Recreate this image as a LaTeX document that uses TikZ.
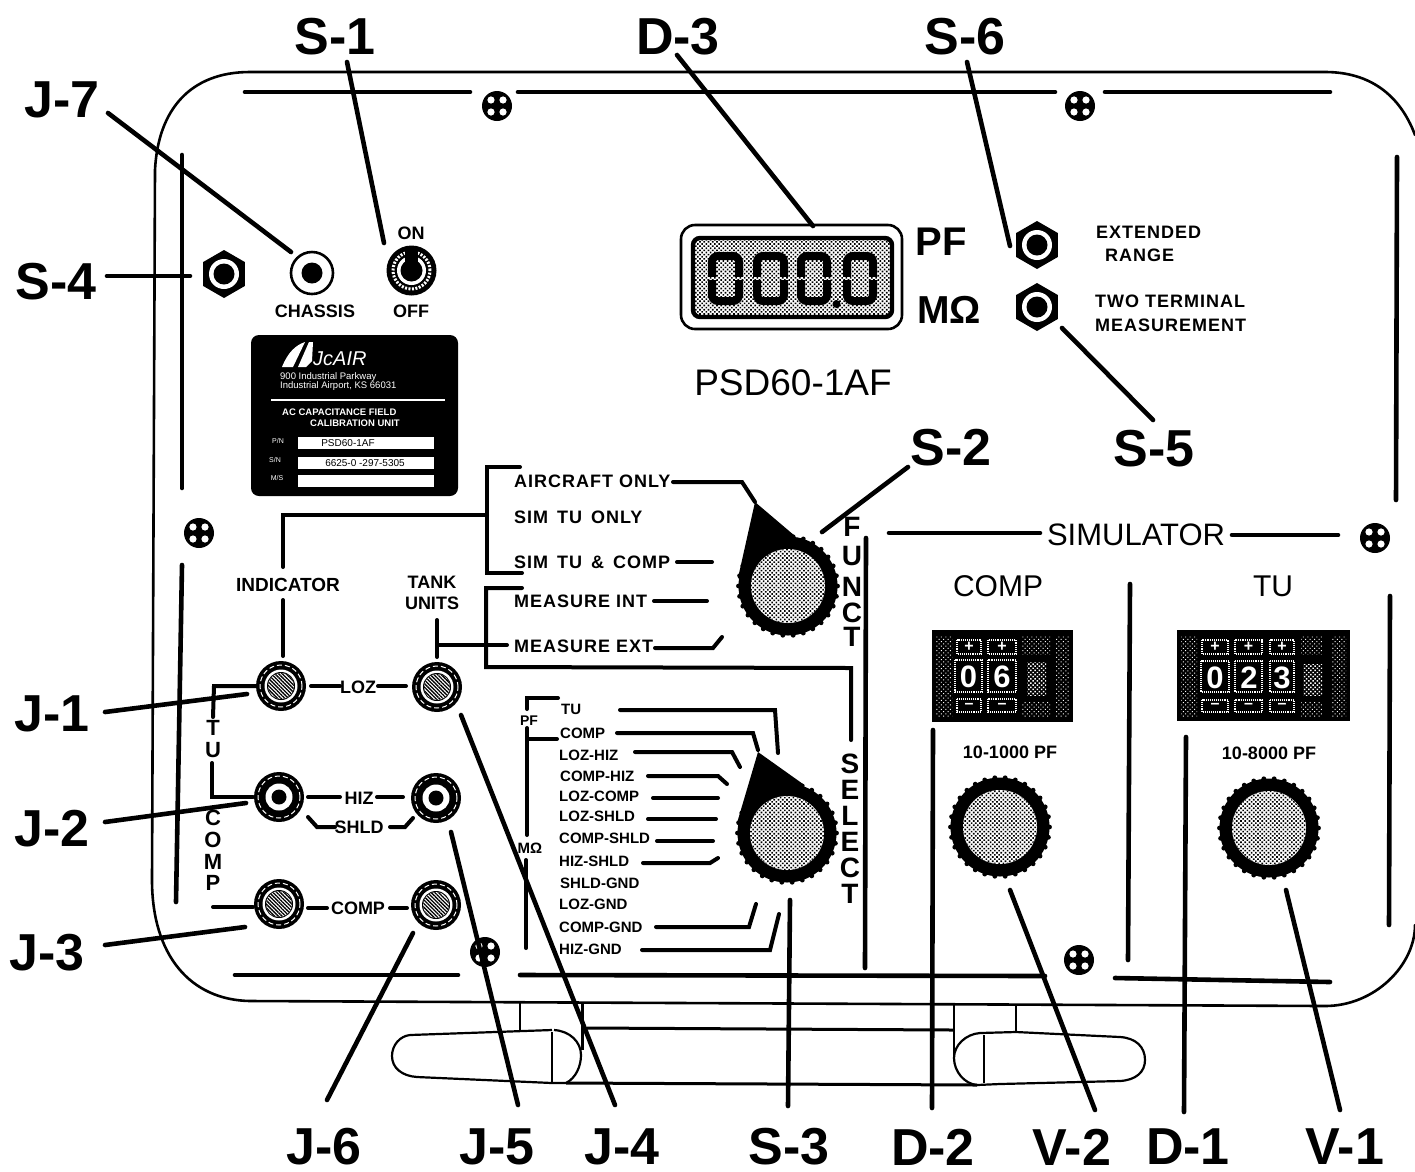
\documentclass[tikz,border=0pt]{standalone}
\usepackage{fontspec}
\setmainfont{Liberation Sans}
\newfontfamily\widefont{Liberation Sans}[LetterSpace=5.5]
\usetikzlibrary{patterns.meta,calc}
\tikzset{
  x=1pt,y=-1pt,
  panelline/.style={line width=2.6pt,line cap=round},
  innerline/.style={line width=4.6pt,line cap=round},
  thinline/.style={line width=2.2pt},
  leadline/.style={line width=4.6pt,line cap=round},
  wireline/.style={line width=4pt,line cap=round,line join=miter},
  stipple/.style={preaction={fill=white},pattern={Dots[distance=3pt,radius=1.15pt,angle=45]}},
  wstipple/.style={pattern={Dots[distance=3.2pt,radius=.7pt,angle=45]},pattern color=white},
  wstipplehi/.style={pattern={Dots[distance=3pt,radius=1.05pt,angle=45]},pattern color=white},
  hatchfill/.style={preaction={fill=white},pattern={Lines[angle=-45,distance=2.6pt,line width=1.3pt]}},
  biglabel/.style={font=\bfseries\fontsize{52}{52}\selectfont,inner sep=0pt},
  smalllabel/.style={font=\bfseries\fontsize{18}{21}\selectfont,inner sep=0pt,align=center},
  widelabel/.style={font=\widefont\bfseries\fontsize{18}{21}\selectfont,inner sep=0pt,anchor=west},
  sellabel/.style={font=\bfseries\fontsize{15}{15}\selectfont,inner sep=0pt,anchor=west},
  vertlabel/.style={font=\bfseries\fontsize{28}{28}\selectfont,inner sep=0pt},
  vertsmall/.style={font=\bfseries\fontsize{22}{22}\selectfont,inner sep=0pt},
  platetext/.style={font=\fontsize{9.5}{9.5}\selectfont,text=white,inner sep=0pt},
  windowdigit/.style={font=\bfseries\fontsize{31}{31}\selectfont,text=white,inner sep=0pt},
  wbtn/.style={draw=white,densely dotted,line width=1.1pt},
}
\newcommand\leadln[3]{\coordinate (#1s) at (#2);\coordinate (#1e) at (#3);\draw[leadline] (#1s) -- (#1e);}
\newcommand\panelscrew[2]{%
  \fill (#1,#2) circle[radius=15pt];
  \foreach \a in {45,135,225,315}{\fill[white] ($(#1,#2)+(\a:8.5)$) circle[radius=3.6pt];}}
\newcommand\hexnut[2]{%
  \fill ($(#1,#2)+(90:24)$) -- ($(#1,#2)+(30:24)$) -- ($(#1,#2)+(-30:24)$) -- ($(#1,#2)+(-90:24)$) -- ($(#1,#2)+(-150:24)$) -- ($(#1,#2)+(150:24)$) -- cycle;
  \fill[white] (#1,#2) circle[radius=15pt];
  \fill (#1,#2) circle[radius=10.5pt];}
\newcommand\jackbase[2]{%
  \fill (#1,#2) circle[radius=25pt];
  \draw[white,line width=1pt,dashed,dash pattern=on 5pt off 3pt] (#1,#2) circle[radius=21pt];}
\newcommand\jacklow[2]{\jackbase{#1}{#2}%
  \fill[white] (#1,#2) circle[radius=16.5pt];
  \fill (#1,#2) circle[radius=14pt];
  \fill[hatchfill] (#1,#2) circle[radius=13pt];}
\newcommand\jackhigh[2]{\jackbase{#1}{#2}%
  \fill[white] (#1,#2) circle[radius=13.5pt];
  \fill (#1,#2) circle[radius=7.5pt];}
\newcommand\knob[2]{%
  \fill (#1,#2) circle[radius=49.5pt];
  \foreach \a in {0,12,...,348}{\fill ($(#1,#2)+(\a:49.5)$) circle[radius=2.4pt];}
  \fill[stipple] (#1,#2) circle[radius=37pt];}
\newcommand\wbutton[5]{\draw[wbtn] (#1,#2) rectangle (#3,#4);\node[font=\bfseries\fontsize{16}{16}\selectfont,text=white,inner sep=0pt] at ({(#1+#3)/2},{(#2+#4)/2}) {#5};}
\newcommand\dispdigit[2]{%
  \draw[line width=8pt,rounded corners=6pt] (#1,256) rectangle (#2,301);
  \fill[stipple] (#1-4.5,277) rectangle (#1+4.5,280);
  \fill[stipple] (#2-4.5,277) rectangle (#2+4.5,280);}
\begin{document}
\begin{tikzpicture}
\useasboundingbox (0,0) rectangle (1415,1171);
\fill[white] (0,0) rectangle (1415,1171);

% ---- panel outline
\draw[panelline] (1415,135) .. controls (1400,95) and (1370,72) .. (1325,72) -- (250,72)
  .. controls (190,72) and (158,110) .. (155,170) -- (152,880)
  .. controls (152,955) and (190,1000) .. (250,1001) -- (1325,1006)
  .. controls (1375,1006) and (1415,965) .. (1415,925);
% inner border segments
\draw[innerline] (245,92) -- (470,92);
\draw[innerline] (518,92) -- (1055,92);
\draw[innerline] (1105,92) -- (1330,92);
\draw[innerline] (182,155) -- (182,488);
\draw[innerline] (182,565) -- (176,902);
\draw[innerline] (1397,157) -- (1396,500);
\draw[innerline] (1390,596) -- (1389,925);
\draw[innerline] (235,975) -- (458,975);
\draw[innerline] (520,975) -- (1045,976);
\draw[innerline] (1115,978) -- (1330,982);

% ---- handles
\draw[thinline,line join=round] (552,1030) -- (410,1035) .. controls (400,1036) and (392,1045) .. (392,1056)
  .. controls (392,1068) and (402,1076) .. (417,1077) -- (552,1083) -- (566,1083)
  .. controls (576,1078) and (581,1066) .. (581,1055) .. controls (581,1042) and (570,1031) .. (554,1030);
\draw[thinline] (552,1032) -- (552,1082);
\draw[thinline] (520,1003) -- (520,1030);
\draw[line width=3pt] (582,1003) -- (582,1050);
\draw[line width=3pt] (587,1028) -- (953,1030);
\draw[line width=3pt] (566,1083) -- (977,1085);
\draw[thinline] (954,1005) -- (954,1060);
\draw[thinline,line join=round] (1016,1032) -- (980,1033) .. controls (966,1034) and (954,1045) .. (954,1058)
  .. controls (954,1072) and (965,1084) .. (977,1085) -- (1000,1084) -- (1120,1081) .. controls (1136,1080) and (1145,1072) .. (1145,1060)
  .. controls (1145,1047) and (1136,1038) .. (1120,1037) -- (1016,1032);
\draw[thinline] (984,1035) -- (984,1083);
\draw[thinline] (1016,1005) -- (1016,1032);

% ---- screws
\panelscrew{497}{106}
\panelscrew{1080}{106}
\panelscrew{199}{533}
\panelscrew{1375}{538}
\panelscrew{485}{952}
\panelscrew{1079}{960}

% ---- top controls
\hexnut{224}{274}
\draw[line width=2.6pt] (312,273) circle[radius=21pt];
\fill (312,273) circle[radius=10.5pt];
\fill (411.5,270.5) circle[radius=25pt];
\draw[white,line width=3pt,dash pattern=on 2pt off 1.5pt] (411.5,270.5) circle[radius=18.5pt];
\fill[white] (411.5,270.5) circle[radius=14.5pt];
\fill (411.5,270.5) circle[radius=11pt];
\fill (405,250) rectangle (418,270);
\node[smalllabel] (onlab) at (411,233) {ON};
\node[smalllabel] (chassislab) at (315,311) {CHASSIS};
\node[smalllabel] (offlab) at (411,311) {OFF};

% ---- nameplate
\fill[rounded corners=8pt] (251,335) rectangle (458,496);
\fill[white] (282,367) .. controls (288,352) and (296,345) .. (305,342) -- (293,367) -- cycle;
\fill[white] (298,367) -- (309,342) -- (313,342) -- (312,361) -- (306,367) -- cycle;
\node[font=\itshape\fontsize{20}{20}\selectfont,text=white,inner sep=0pt,anchor=west] (jcair) at (313,359) {JcAIR};
\node[platetext,anchor=west] (addr1) at (280,377) {900 Industrial Parkway};
\node[platetext,anchor=west] (addr2) at (280,386.5) {Industrial Airport, KS 66031};
\draw[white,line width=2.4pt] (271,400) -- (445,400);
\node[platetext,anchor=west,font=\bfseries\fontsize{9.5}{9.5}\selectfont] (titl1) at (282,412) {AC CAPACITANCE FIELD};
\node[platetext,anchor=west,font=\bfseries\fontsize{9.5}{9.5}\selectfont] (titl2) at (310,423) {CALIBRATION UNIT};
\node[platetext,font=\fontsize{7}{7}\selectfont] (pn) at (278,441) {P/N};
\node[platetext,font=\fontsize{7}{7}\selectfont] (sn) at (275,460) {S/N};
\node[platetext,font=\fontsize{7}{7}\selectfont] (ms) at (277,478) {M/S};
\fill[white] (298,437) rectangle (434,449);
\fill[white] (298,457) rectangle (434,469);
\fill[white] (298,475) rectangle (434,487);
\node[font=\fontsize{10}{10}\selectfont,inner sep=0pt] (pnval) at (348,443) {PSD60-1AF};
\node[font=\fontsize{10}{10}\selectfont,inner sep=0pt] (snval) at (365,463) {6625-0 -297-5305};

% ---- display
\draw[line width=2.6pt,rounded corners=14pt] (681,225) rectangle (902,329);
\draw[line width=4.4pt,rounded corners=7pt,stipple] (693,238) rectangle (892,317);
\dispdigit{712}{739}
\dispdigit{757}{784}
\dispdigit{801}{827}
\dispdigit{847}{873}
\fill (836.5,304) circle[radius=4pt];
\node[font=\bfseries\fontsize{40}{40}\selectfont,inner sep=0pt] (pflab) at (941,242) {PF};
\node[font=\bfseries\fontsize{39}{39}\selectfont,inner sep=0pt] (molab) at (949,310) {MΩ};
\node[font=\fontsize{37}{37}\selectfont,inner sep=0pt] (model) at (793,383) {PSD60-1AF};
\hexnut{1037}{245}
\hexnut{1037}{307}
\node[widelabel] (ext1) at (1096,232) {EXTENDED};
\node[widelabel] (ext2) at (1105,255) {RANGE};
\node[widelabel] (two1) at (1095,301) {TWO TERMINAL};
\node[widelabel] (two2) at (1095,325) {MEASUREMENT};

% ---- function switch
\fill (755,502) -- (795,536) -- (760,590) -- (738,578) -- cycle;
\knob{788}{586}
\node[widelabel] (faircraft) at (514,481) {AIRCRAFT ONLY};
\node[widelabel] (fsimtu) at (514,517) {SIM\, TU\, ONLY};
\node[widelabel] (fsimcomp) at (514,562) {SIM\, TU\, \&\, COMP};
\node[widelabel] (fmint) at (514,601) {MEASURE INT};
\node[widelabel] (fmext) at (514,646) {MEASURE EXT};
\draw[wireline] (673,482) -- (742,482) -- (755,502);
\draw[wireline] (677,562) -- (712,562);
\draw[wireline] (654,601) -- (707,601);
\draw[wireline] (655,648) -- (713,648) -- (722,637);
\draw[wireline] (520,467) -- (487,467) -- (487,573) -- (522,573);
\draw[wireline] (487,515) -- (283,515) -- (283,567);
\draw[wireline] (522,588) -- (486,588) -- (486,667) -- (851,668) -- (851,740);
\draw[wireline] (438,645) -- (507,645);
\draw[innerline] (866,538) -- (865,968);
\node[vertlabel] (fn1) at (852,527) {F};
\node[vertlabel] (fn2) at (852,556) {U};
\node[vertlabel] (fn3) at (852,587) {N};
\node[vertlabel] (fn4) at (852,613) {C};
\node[vertlabel] (fn5) at (852,637) {T};
\node[vertlabel] (sl1) at (850,764) {S};
\node[vertlabel] (sl2) at (850,790) {E};
\node[vertlabel] (sl3) at (850,816) {L};
\node[vertlabel] (sl4) at (850,842) {E};
\node[vertlabel] (sl5) at (850,868) {C};
\node[vertlabel] (sl6) at (850,894) {T};

% ---- select switch
\fill (758,752) -- (803,784) -- (760,835) -- (737,823) -- cycle;
\knob{787}{833}
\node[sellabel] (s1) at (561,709) {TU};
\node[sellabel] (s2) at (560,733) {COMP};
\node[sellabel] (s3) at (559,755) {LOZ-HIZ};
\node[sellabel] (s4) at (560,776) {COMP-HIZ};
\node[sellabel] (s5) at (559,796) {LOZ-COMP};
\node[sellabel] (s6) at (559,816) {LOZ-SHLD};
\node[sellabel] (s7) at (559,838) {COMP-SHLD};
\node[sellabel] (s8) at (559,861) {HIZ-SHLD};
\node[sellabel] (s9) at (560,883) {SHLD-GND};
\node[sellabel] (s10) at (559,904) {LOZ-GND};
\node[sellabel] (s11) at (559,927) {COMP-GND};
\node[sellabel] (s12) at (559,949) {HIZ-GND};
\draw[wireline] (620,710) -- (775,710) -- (778,753);
\draw[wireline] (617,733) -- (753,733) -- (758,750);
\draw[wireline] (635,752) -- (732,752) -- (740,767);
\draw[wireline] (648,776) -- (718,776) -- (727,784);
\draw[wireline] (653,798) -- (718,798);
\draw[wireline] (648,819) -- (716,819);
\draw[wireline] (657,841) -- (713,841);
\draw[wireline] (643,863) -- (710,863) -- (718,858);
\draw[wireline] (656,927) -- (749,927) -- (756,904);
\draw[wireline] (642,950) -- (770,950) -- (779,914);
\draw[wireline] (558,698) -- (527,698) -- (527,709);
\draw[wireline] (527,728) -- (527,835);
\draw[wireline] (557,739) -- (527,739);
\draw[wireline] (526,860) -- (526,948);
\node[font=\bfseries\fontsize{14}{14}\selectfont,inner sep=0pt] (pfsel) at (529,721) {PF};
\node[font=\bfseries\fontsize{15}{15}\selectfont,inner sep=0pt] (mosel) at (530,848) {MΩ};

% ---- jacks
\jacklow{281}{686}
\jacklow{437}{687}
\jackhigh{279}{797}
\jackhigh{436}{798}
\jacklow{279}{904}
\jacklow{436}{905}
\node[smalllabel,font=\bfseries\fontsize{19}{21}\selectfont] (indic) at (288,585) {INDICATOR};
\node[smalllabel] (tank) at (432,593) {TANK\\UNITS};
\node[smalllabel] (lozl) at (358,687) {LOZ};
\node[smalllabel] (hizl) at (359,798) {HIZ};
\node[smalllabel] (shld) at (359,827) {SHLD};
\node[smalllabel] (compl) at (358,908) {COMP};
\draw[wireline] (283,600) -- (283,656);
\draw[wireline] (437,620) -- (437,657);
\draw[wireline] (311,686) -- (340,686);
\draw[wireline] (378,686) -- (406,686);
\draw[wireline] (308,797) -- (340,797);
\draw[wireline] (377,797) -- (403,797);
\draw[wireline] (308,817) -- (317,827) -- (335,827);
\draw[wireline] (390,827) -- (405,827) -- (413,818);
\draw[wireline] (308,908) -- (327,908);
\draw[wireline] (390,908) -- (407,908);
\draw[wireline] (257,686) -- (214,686) -- (213,717);
\draw[wireline] (212,763) -- (212,797) -- (253,797);
\draw[wireline] (213,907) -- (253,907);
\node[vertsmall] (tu1) at (213,728) {T};
\node[vertsmall] (tu2) at (213,750) {U};
\node[vertsmall] (cp1) at (213,818) {C};
\node[vertsmall] (cp2) at (213,840) {O};
\node[vertsmall] (cp3) at (213,862) {M};
\node[vertsmall] (cp4) at (213,883) {P};

% ---- simulator
\node[font=\fontsize{31}{31}\selectfont,inner sep=0pt] (simul) at (1136,535) {SIMULATOR};
\draw[innerline] (889,533) -- (1040,533);
\draw[innerline] (1232,535) -- (1338,535);
\draw[innerline] (1130,584) -- (1128,960);
\node[font=\fontsize{30}{30}\selectfont,inner sep=0pt] (scomp) at (998,586) {COMP};
\node[font=\fontsize{30}{30}\selectfont,inner sep=0pt] (stu) at (1273,586) {TU};

\fill (932,630) rectangle (1073,722);
\fill (1177,630) rectangle (1350,721);
% comp counter
\fill[wstipple] (936,636) rectangle (952,716);
\fill[wstipple] (1022,636) rectangle (1050,654);
\fill[wstipplehi] (1027,662) rectangle (1046,695);
\fill[wstipple] (1022,702) rectangle (1050,716);
\fill[wstipple] (1056,636) rectangle (1069,716);
\wbutton{957}{640}{981}{654}{+}
\wbutton{988}{640}{1016}{654}{+}
\draw[wbtn] (955,660) rectangle (982,692);
\draw[wbtn] (988,660) rectangle (1016,692);
\node[windowdigit] (cd1) at (968.5,677) {0};
\node[windowdigit] (cd2) at (1002,677) {6};
\wbutton{957}{699}{981}{712}{--}
\wbutton{988}{699}{1016}{712}{--}
% tu counter
\fill[wstipple] (1181,636) rectangle (1197,716);
\fill[wstipple] (1301,636) rectangle (1322,654);
\fill[wstipplehi] (1303,664) rectangle (1322,695);
\fill[wstipple] (1301,702) rectangle (1322,716);
\fill[wstipple] (1332,636) rectangle (1346,716);
\wbutton{1202}{640}{1228}{654}{+}
\wbutton{1235}{640}{1262}{654}{+}
\wbutton{1270}{640}{1294}{654}{+}
\draw[wbtn] (1201,661) rectangle (1229,692);
\draw[wbtn] (1235,661) rectangle (1262,692);
\draw[wbtn] (1270,661) rectangle (1294,692);
\node[windowdigit] (td1) at (1215,678) {0};
\node[windowdigit] (td2) at (1249,678) {2};
\node[windowdigit] (td3) at (1282,678) {3};
\wbutton{1202}{700}{1228}{712}{--}
\wbutton{1235}{700}{1262}{712}{--}
\wbutton{1270}{700}{1294}{712}{--}
\node[smalllabel] (rng1) at (1010,752) {10-1000 PF};
\node[smalllabel] (rng2) at (1269,753) {10-8000 PF};
\knob{1000}{827}
\knob{1269}{828}

% ---- callout labels
\node[biglabel] (S1) at (335,37) {S-1};
\node[biglabel] (D3) at (678,37) {D-3};
\node[biglabel] (S6) at (965,37) {S-6};
\node[biglabel] (J7) at (62,100) {J-7};
\node[biglabel] (S4) at (56,282) {S-4};
\node[biglabel] (S2) at (951,448) {S-2};
\node[biglabel] (S5) at (1154,449) {S-5};
\node[biglabel] (J1) at (52,714) {J-1};
\node[biglabel] (J2) at (52,829) {J-2};
\node[biglabel] (J3) at (47,953) {J-3};
\node[biglabel] (J6) at (324,1147) {J-6};
\node[biglabel] (J5) at (497,1147) {J-5};
\node[biglabel] (J4) at (622,1147) {J-4};
\node[biglabel] (S3) at (789,1147) {S-3};
\node[biglabel] (D2) at (933,1147) {D-2};
\node[biglabel] (V2) at (1072,1147) {V-2};
\node[biglabel] (D1) at (1188,1147) {D-1};
\node[biglabel] (V1) at (1345,1147) {V-1};

\leadln{ls1}{347,62}{384,243}
\leadln{lj7}{108,113}{291,252}
\leadln{ls4}{107,276}{190,276}
\leadln{ld3}{677,55}{813,226}
\leadln{ls6}{967,62}{1010,246}
\leadln{ls5}{1153,420}{1062,328}
\leadln{ls2}{908,467}{822,532}
\leadln{lj1}{105,712}{247,694}
\leadln{lj2}{105,822}{246,803}
\leadln{lj3}{105,945}{245,927}
\leadln{lj6}{327,1100}{413,933}
\leadln{lj5}{518,1105}{451,832}
\leadln{lj4}{615,1105}{461,715}
\leadln{ls3}{788,1106}{790,900}
\leadln{ld2}{932,1108}{933,730}
\leadln{lv2}{1095,1110}{1010,890}
\leadln{ld1}{1184,1112}{1186,737}
\leadln{lv1}{1340,1110}{1286,890}
\end{tikzpicture}
\end{document}
